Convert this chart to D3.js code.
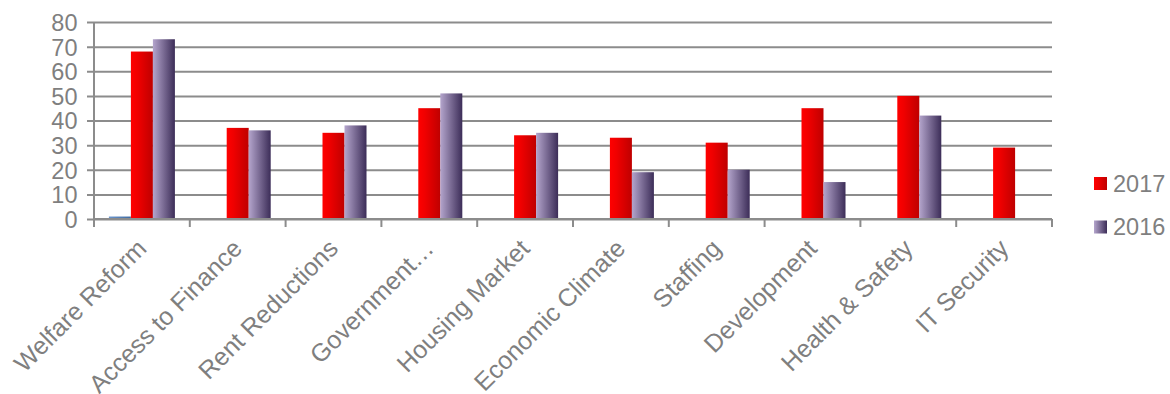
<!DOCTYPE html>
<html>
<head>
<meta charset="utf-8">
<script src="https://cdn.jsdelivr.net/npm/d3@7"></script>
<style>
  html, body { margin: 0; padding: 0; background: #ffffff; }
  svg { display: block; }
  text { font-family: "Liberation Sans", Arial, sans-serif; fill: #7f7f7f; }
</style>
</head>
<body>
<svg id="chart" width="1170" height="394"></svg>
<script>
// Risk categories and survey scores per year
const categories = ["Welfare Reform", "Access to Finance", "Rent Reductions", "Government…",
  "Housing Market", "Economic Climate", "Staffing", "Development", "Health & Safety", "IT Security"];
const seriesNames = ["other", "2017", "2016"];
const valuesOther = [1, 0, 0, 0, 0, 0, 0, 0, 0, 0];
const values2017 = [68, 37, 35, 45, 34, 33, 31, 45, 50, 29];
const values2016 = [73, 36, 38, 51, 35, 19, 20, 15, 42, 0];
const yTicks = [0, 10, 20, 30, 40, 50, 60, 70, 80];
const legendItems = ["2017", "2016"];

const svg = d3.select("#chart");
const plotLeft = 94, plotRight = 1052, plotTop = 22, plotBottom = 219;

const x = d3.scaleBand().domain(categories).range([plotLeft, plotRight]).padding(0);
const xs = d3.scaleBand().domain(seriesNames).range([0, x.bandwidth()])
  .paddingInner(0).paddingOuter(0.677);
const y = d3.scaleLinear().domain([0, 80]).range([plotBottom, plotTop]);

// Gradients for bar fills
const defs = svg.append("defs");
const gRed = defs.append("linearGradient").attr("id", "gRed")
  .attr("x1", "0").attr("y1", "0").attr("x2", "1").attr("y2", "0");
gRed.append("stop").attr("offset", "0").attr("stop-color", "#ff0000");
gRed.append("stop").attr("offset", "0.3").attr("stop-color", "#f00000");
gRed.append("stop").attr("offset", "1").attr("stop-color", "#bf0000");
const gPur = defs.append("linearGradient").attr("id", "gPur")
  .attr("x1", "0").attr("y1", "0").attr("x2", "1").attr("y2", "0");
gPur.append("stop").attr("offset", "0").attr("stop-color", "#b4a5cc");
gPur.append("stop").attr("offset", "1").attr("stop-color", "#3c2d58");
const gBlue = defs.append("linearGradient").attr("id", "gBlue")
  .attr("x1", "0").attr("y1", "0").attr("x2", "1").attr("y2", "0");
gBlue.append("stop").attr("offset", "0").attr("stop-color", "#6a95cc");
gBlue.append("stop").attr("offset", "1").attr("stop-color", "#3f6aa0");

const fills = { "other": "url(#gBlue)", "2017": "url(#gRed)", "2016": "url(#gPur)" };

// Horizontal gridlines with left tick stubs
const yAxis = d3.axisLeft(y).tickValues(yTicks).tickSize(-(plotRight - plotLeft)).tickPadding(16);
const gy = svg.append("g").attr("transform", `translate(${plotLeft},0)`).call(yAxis);
gy.select(".domain").remove();
gy.selectAll(".tick line").attr("stroke", "#8c8c8c").attr("stroke-width", 2).attr("x1", -7);
gy.selectAll(".tick text").style("font-size", "23.5px").attr("fill", "#7f7f7f")
  .attr("font-family", "Liberation Sans, Arial, sans-serif").attr("dx", "-0.5").attr("dy", "0.36em");

// Vertical axis line
svg.append("line").attr("x1", plotLeft).attr("x2", plotLeft).attr("y1", plotTop).attr("y2", plotBottom)
  .attr("stroke", "#8c8c8c").attr("stroke-width", 2);

// Bars
const rows = categories.map((c, i) => ({ c, vals: [
  { s: "other", v: valuesOther[i] }, { s: "2017", v: values2017[i] }, { s: "2016", v: values2016[i] }] }));
const groups = svg.append("g").selectAll("g").data(rows).join("g")
  .attr("transform", d => `translate(${x(d.c)},0)`);
groups.selectAll("rect").data(d => d.vals.filter(e => e.v > 0)).join("rect")
  .attr("x", d => xs(d.s)).attr("width", xs.bandwidth())
  .attr("y", d => y(d.v)).attr("height", d => y(0) - y(d.v))
  .attr("fill", d => fills[d.s]);

// Category axis with boundary ticks
const xAxisLine = svg.append("g");
xAxisLine.append("line").attr("x1", plotLeft).attr("x2", plotRight).attr("y1", plotBottom).attr("y2", plotBottom)
  .attr("stroke", "#8c8c8c").attr("stroke-width", 2);
const boundaries = categories.map(c => x(c)).concat([plotRight]);
xAxisLine.selectAll("line.tk").data(boundaries).join("line").attr("class", "tk")
  .attr("x1", d => d).attr("x2", d => d).attr("y1", plotBottom).attr("y2", plotBottom + 8)
  .attr("stroke", "#8c8c8c").attr("stroke-width", 2);

// Rotated category labels
svg.append("g").selectAll("text").data(categories).join("text")
  .attr("transform", d => `translate(${x(d) + x.bandwidth() / 2 + 6},${plotBottom + 31}) rotate(-45)`)
  .attr("text-anchor", "end")
  .style("font-size", "25px")
  .text(d => d);

// Legend
const legend = svg.append("g").selectAll("g").data(legendItems).join("g")
  .attr("transform", (d, i) => `translate(1094,${177 + i * 43.5})`);
legend.append("rect").attr("width", 13).attr("height", 13)
  .attr("fill", d => fills[d]);
legend.append("text").attr("x", 19).attr("y", 14.5).style("font-size", "23.5px").text(d => d);
</script>
</body>
</html>
